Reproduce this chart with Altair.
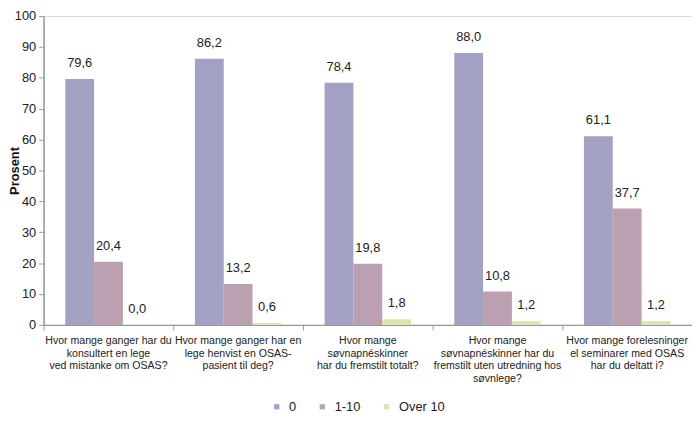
import altair as alt
import pandas as pd

categories = [
    "Hvor mange ganger har du|konsultert en lege|ved mistanke om OSAS?",
    "Hvor mange ganger har en|lege henvist en OSAS-|pasient til deg?",
    "Hvor mange|søvnapnéskinner|har du fremstilt totalt?",
    "Hvor mange|søvnapnéskinner har du|fremstilt uten utredning hos|søvnlege?",
    "Hvor mange forelesninger|el seminarer med OSAS|har du deltatt i?",
]
series = ["0", "1-10", "Over 10"]
vals_0 = [79.6, 86.2, 78.4, 88.0, 61.1]
vals_1_10 = [20.4, 13.2, 19.8, 10.8, 37.7]
vals_over10 = [0.0, 0.6, 1.8, 1.2, 1.2]
y_ticks = [0, 10, 20, 30, 40, 50, 60, 70, 80, 90, 100]
colors = ["#a3a1c4", "#baa0b0", "#dfe3ae"]

rows = []
for s, vals in zip(series, [vals_0, vals_1_10, vals_over10]):
    for c, v in zip(categories, vals):
        rows.append({"kat": c, "serie": s, "verdi": v,
                     "tekst": f"{v:.1f}".replace(".", ",")})
df = pd.DataFrame(rows)

FONT = "Liberation Sans"

x = alt.X("kat:N", sort=categories, title=None,
          scale=alt.Scale(paddingInner=0, paddingOuter=0),
          axis=alt.Axis(labelExpr="split(datum.label, '|')", labelAngle=0,
                        labelFontSize=10.7, labelFont=FONT,
                        labelColor="#222", labelLineHeight=12.7,
                        labelPadding=6, labelBaseline="top",
                        labelLimit=0, labelOverlap=False, labelBound=False,
                        bandPosition=0, tickColor="#999", tickSize=5,
                        domainColor="#999", domainWidth=1.5))
xo = alt.XOffset("serie:N", sort=series,
                 scale=alt.Scale(paddingInner=0, paddingOuter=0.75))
y = alt.Y("verdi:Q", title="Prosent",
          scale=alt.Scale(domain=[0, 100], nice=False),
          axis=alt.Axis(values=y_ticks, tickCount=11, grid=False,
                        labelOverlap=False,
                        labelFontSize=13, labelFont=FONT,
                        labelColor="#222", tickColor="#999", tickSize=5,
                        domainColor="#999", domainWidth=1.5, labelPadding=3,
                        titleFont=FONT, titleFontSize=13,
                        titleFontWeight="bold", titleColor="#111",
                        titleX=-29, titleY=156, titleAngle=270,
                        titleBaseline="middle", titleAlign="center"))

bars = alt.Chart(df).mark_bar().encode(
    x=x, xOffset=xo, y=y,
    color=alt.Color("serie:N", sort=series,
                    scale=alt.Scale(domain=series, range=colors),
                    legend=alt.Legend(title=None, orient="none", direction="horizontal",
                                      legendX=229, legendY=388,
                                      symbolType="square", symbolSize=28,
                                      symbolStrokeWidth=0,
                                      labelFontSize=13, labelFont=FONT,
                                      labelColor="#222", columnPadding=19,
                                      labelOffset=6)),
)
labels = alt.Chart(df).mark_text(baseline="bottom", dy=-9, fontSize=13,
                                 font=FONT, color="#222").encode(
    x=x, xOffset=xo, y=y, text="tekst:N")

chart = (bars + labels).properties(
    width=655, height=312,
    autosize=alt.AutoSizeParams(type="none"),
    padding={"left": 36, "top": 6, "right": 0, "bottom": 96},
).configure_view(stroke=None).configure(background="white")

chart.save("out.html", embed_options={"renderer": "svg", "actions": False})
